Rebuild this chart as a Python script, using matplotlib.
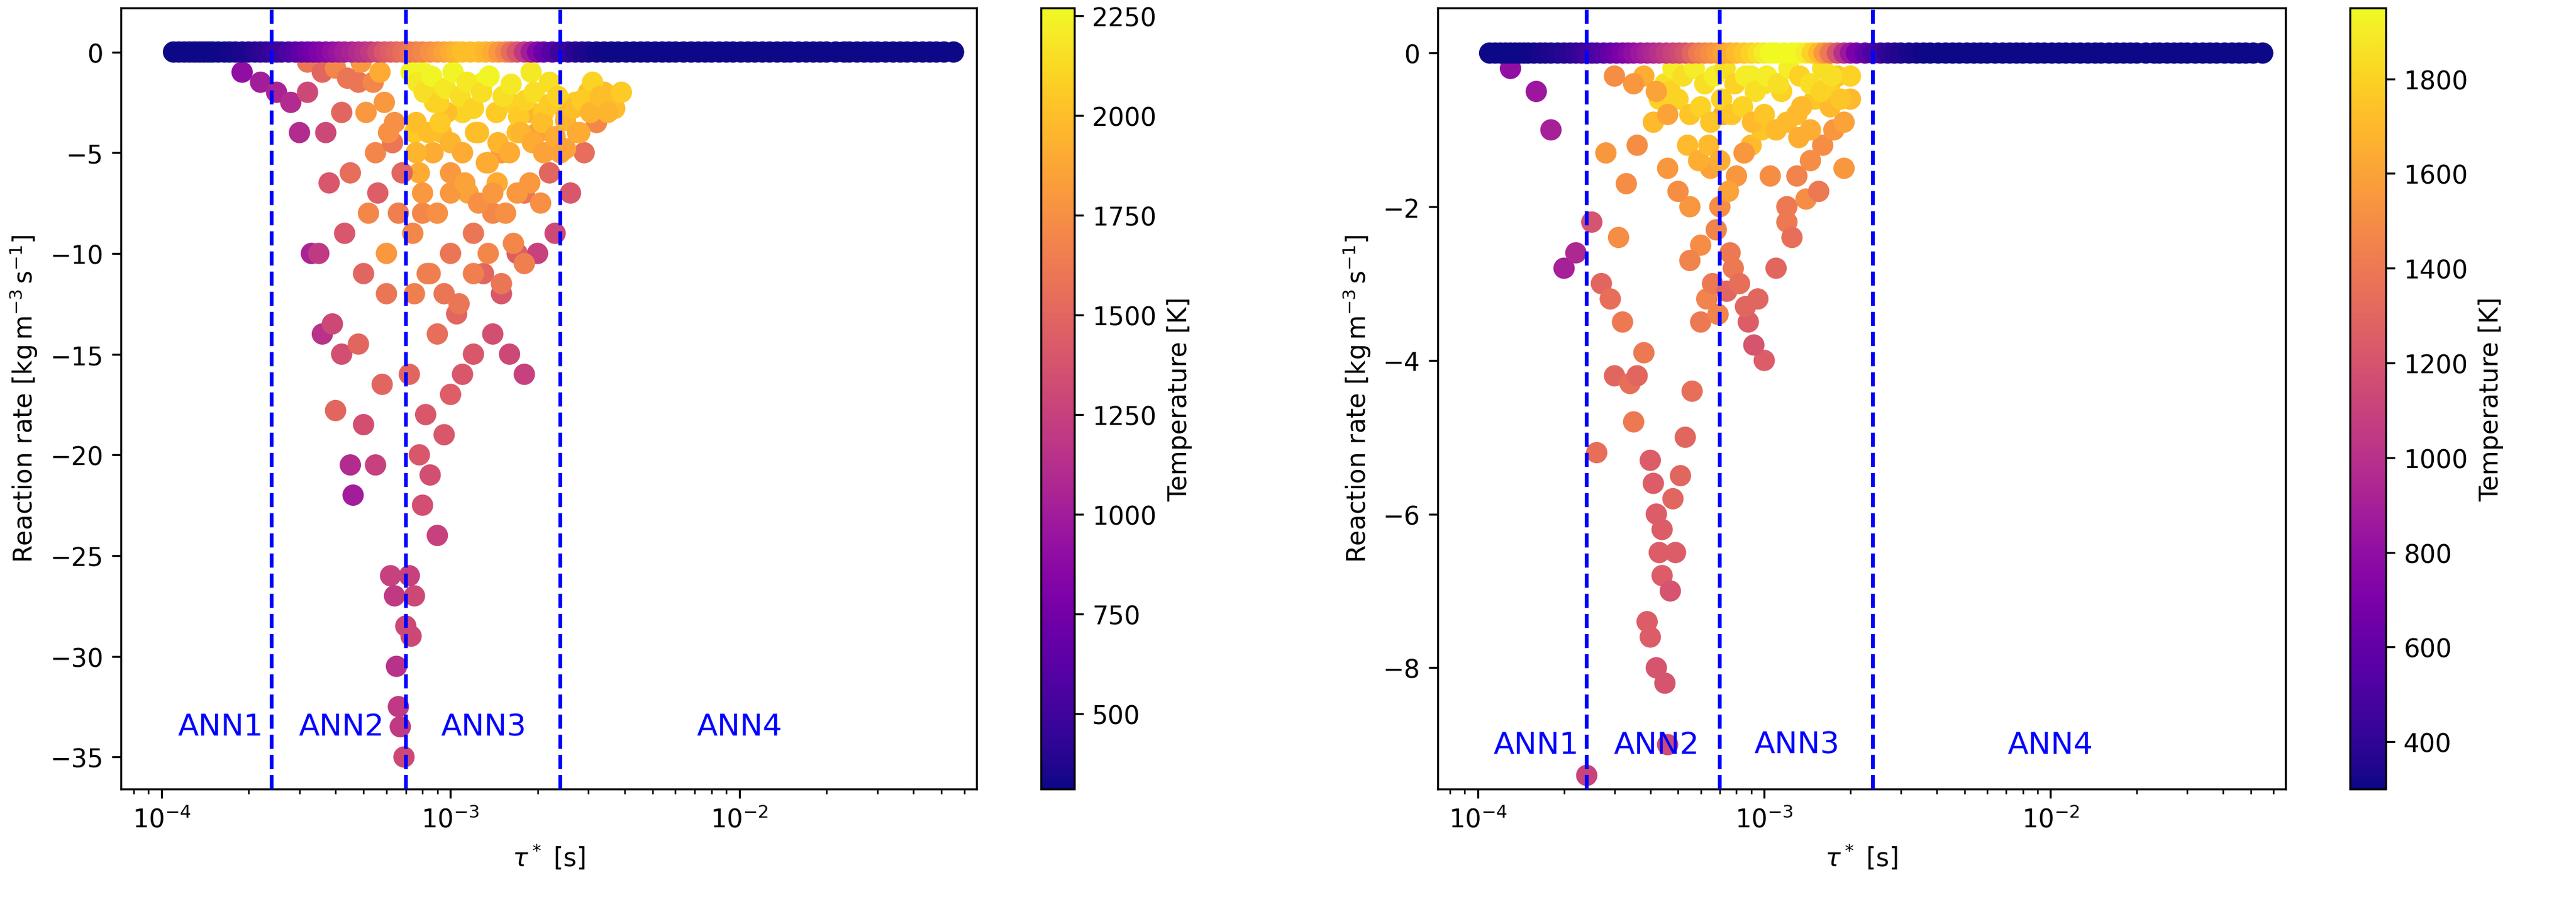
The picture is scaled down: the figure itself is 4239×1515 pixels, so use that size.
import matplotlib
matplotlib.use("Agg")
import matplotlib.pyplot as plt
import numpy as np

# baseline points (rate ~ 0)
base_tau = [1.1e-4,1.15e-4,1.2e-4,1.25e-4,1.3e-4,1.35e-4,1.4e-4,1.45e-4,1.5e-4,1.57e-4,1.65e-4,1.72e-4,1.8e-4,1.9e-4,2.0e-4,2.1e-4,
            2.2e-4,2.3e-4,2.4e-4,2.5e-4,2.6e-4,2.75e-4,2.9e-4,3.05e-4,3.2e-4,3.35e-4,3.5e-4,3.7e-4,3.9e-4,4.1e-4,4.3e-4,4.55e-4,
            4.8e-4,5.05e-4,5.3e-4,5.6e-4,5.9e-4,6.2e-4,6.5e-4,6.85e-4,7.2e-4,7.6e-4,8e-4,8.5e-4,9e-4,9.5e-4,1.0e-3,1.05e-3,
            1.1e-3,1.17e-3,1.25e-3,1.32e-3,1.4e-3,1.47e-3,1.55e-3,1.62e-3,1.7e-3,1.8e-3,1.9e-3,2.0e-3,2.1e-3,2.25e-3,2.4e-3,
            2.55e-3,2.7e-3,2.85e-3,3.0e-3,3.2e-3,3.4e-3,3.6e-3,3.8e-3,4.05e-3,4.3e-3,4.55e-3,4.8e-3,5.1e-3,5.4e-3,5.7e-3,
            6e-3,6.4e-3,6.8e-3,7.2e-3,7.6e-3,8e-3,8.5e-3,9e-3,9.5e-3,1.01e-2,1.07e-2,1.13e-2,1.2e-2,1.27e-2,1.35e-2,1.43e-2,
            1.5e-2,1.6e-2,1.7e-2,1.8e-2,1.9e-2,2.0e-2,2.15e-2,2.3e-2,2.4e-2,2.55e-2,2.7e-2,2.85e-2,3.0e-2,3.2e-2,3.4e-2,
            3.6e-2,3.8e-2,4.05e-2,4.3e-2,4.55e-2,4.8e-2,5.1e-2,5.5e-2]
base_T = [300,300,300,300,300,300,300,300,310,310,320,330,340,350,360,380,
          400,420,450,480,500,550,600,650,700,750,800,850,900,950,1000,1050,
          1100,1150,1200,1300,1400,1450,1500,1550,1600,1650,1700,1750,1800,1850,1900,1950,
          2000,2000,2000,1950,1900,1800,1700,1550,1400,1200,1000,850,700,600,500,
          450,400,370,350,330,320,310,300,300,300,300,300,300,300,300,
          300,300,300,300,300,300,300,300,300,300,300,300,300,300,300,300,
          300,300,300,300,300,300,300,300,300,300,300,300,300,300,300,
          300,300,300,300,300,300,300,300]

# left panel scatter
L_tau = [1.9e-4,2.2e-4,2.5e-4,2.8e-4,3.0e-4,3.3e-4,3.5e-4,3.6e-4,3.9e-4,4.0e-4,4.2e-4,4.5e-4,4.6e-4,4.8e-4,5.0e-4,5.5e-4,5.8e-4,
         6.2e-4,6.4e-4,6.5e-4,6.6e-4,6.7e-4,6.9e-4,7.0e-4,6.0e-4,5.2e-4,4.5e-4,3.8e-4,4.2e-4,5.5e-4,6.0e-4,3.2e-4,4.8e-4,
         7.2e-4,7.3e-4,7.5e-4,7.8e-4,8e-4,8.5e-4,9e-4,9.5e-4,1.0e-3,1.1e-3,1.2e-3,1.4e-3,1.6e-3,1.8e-3,1.5e-3,2.0e-3,2.3e-3,
         2.6e-3,2.9e-3,3.2e-3,3.6e-3,3.0e-3,2.5e-3,2.0e-3,1.5e-3,1.0e-3,8e-4,7.5e-4,7.2e-4,1.2e-3,1.8e-3,1.1e-3,9e-4,1.3e-3,
         7.5e-4,1.6e-3,2.2e-3,8e-4,1.0e-3,1.3e-3,9e-4,2.2e-3,1.7e-3,8.2e-4,1.05e-3,1.4e-3,2.8e-3,3.4e-3,1.9e-3,2.4e-3,
         7.8e-4,8.7e-4,9.3e-4,1.15e-3,1.25e-3,1.7e-3,2.1e-3,2.7e-3,3.1e-3,3.7e-3,3.9e-3,7.4e-4,7.6e-4,8.3e-4,
         8.8e-4,9.7e-4,1.35e-3,1.45e-3,1.9e-3,6.3e-4,5.6e-4,5.0e-4,4.3e-4,3.7e-4,
         7.3e-4,7.7e-4,8.1e-4,8.6e-4,9.1e-4,9.6e-4,1.02e-3,1.08e-3,1.14e-3,1.2e-3,1.28e-3,1.36e-3,1.44e-3,1.52e-3,1.62e-3,
         1.72e-3,1.82e-3,1.95e-3,2.08e-3,2.2e-3,2.35e-3,2.5e-3,2.65e-3,2.85e-3,3.05e-3,3.3e-3,3.5e-3,
         7.6e-4,8.4e-4,9.2e-4,1.0e-3,1.1e-3,1.22e-3,1.33e-3,1.46e-3,1.6e-3,1.75e-3,1.92e-3,2.1e-3,2.3e-3,2.5e-3,2.75e-3,
         8e-4,9e-4,1.0e-3,1.12e-3,1.25e-3,1.4e-3,1.55e-3,1.7e-3,1.88e-3,2.05e-3,
         8.5e-4,9.5e-4,1.07e-3,1.2e-3,1.35e-3,1.5e-3,1.65e-3,1.8e-3,
         3.2e-4,3.6e-4,4.0e-4,4.4e-4,4.9e-4,5.4e-4,5.9e-4,6.4e-4,6.8e-4,5.1e-4,5.7e-4,6.1e-4,6.6e-4]
L_rate = [-1,-1.5,-2,-2.5,-4,-10,-10,-14,-13.5,-17.8,-15,-20.5,-22,-14.5,-18.5,-20.5,-16.5,
          -26,-27,-30.5,-32.5,-33.5,-35,-28.5,-12,-8,-6,-6.5,-3,-5,-10,-2,-1.5,
          -26,-29,-27,-20,-22.5,-21,-24,-19,-17,-16,-15,-14,-15,-16,-12,-10,-9,
          -7,-5,-3.5,-2.5,-2,-3,-4,-5,-6,-8,-12,-16,-9,-7,-3,-2,-1.5,
          -4,-2.5,-1.5,-1,-10,-11,-14,-6,-10,-18,-13,-8,-4,-2,-3,-5,
          -6,-5,-4,-7,-4,-4,-3,-2.5,-1.5,-2.8,-2,-9,-3.5,-11,
          -2.5,-3,-5.5,-6.5,-1,-4.5,-7,-11,-9,-4,
          -1.0,-1.5,-2.0,-1.2,-2.5,-1.8,-1.0,-2.2,-1.5,-2.8,-2.0,-1.2,-3.0,-2.2,-1.6,
          -3.2,-2.4,-2.0,-3.5,-2.6,-2.2,-3.4,-2.8,-2.4,-3.0,-2.2,-3.0,
          -5,-4,-3.5,-4.5,-5,-4,-5.5,-4.5,-5,-4,-4.5,-5,-4.2,-4.8,-4.0,
          -7,-8,-7,-6.5,-7.5,-7,-8,-7,-6.5,-7.5,
          -11,-12,-12.5,-11,-10,-11.5,-9.5,-10.5,
          -0.5,-1,-0.8,-1.3,-0.5,-1.5,-2.5,-3.5,-6,-3,-1,-4,-8]
L_T = [900,1000,1050,1100,1100,1050,1200,1150,1300,1500,1350,1100,1000,1500,1350,1250,1500,
       1250,1200,1150,1200,1200,1300,1300,1600,1700,1550,1400,1500,1700,1800,1300,1600,
       1250,1300,1300,1400,1350,1350,1250,1400,1450,1400,1400,1350,1300,1250,1400,1250,1300,
       1400,1550,1700,1900,2000,1950,1850,1800,1800,1700,1650,1500,1600,1600,2100,2200,2250,
       2050,2100,2150,2250,1600,1500,1550,1500,1450,1400,1500,1700,1900,2000,1950,1850,
       1900,1900,2000,1850,2000,2000,2050,2050,2100,2000,2050,1700,2000,1650,
       2100,2000,1900,1900,2200,1600,1450,1500,1400,1300,
       2250,2200,2150,2250,2100,2200,2250,2150,2200,2100,2150,2250,2050,2150,2200,
       2050,2100,2150,2000,2050,2100,1950,2000,2050,1950,2000,1950,
       1950,2000,2050,1950,1900,2000,1900,1950,1900,1950,1900,1850,1900,1850,1900,
       1800,1750,1800,1850,1750,1800,1750,1800,1800,1750,
       1650,1600,1600,1650,1700,1600,1700,1650,
       1600,1500,1700,1600,1800,1700,1800,1750,1500,1800,1900,1750,1650]

# right panel scatter
R_tau = [1.3e-4,1.6e-4,1.8e-4,2.0e-4,2.2e-4,2.4e-4,2.5e-4,2.7e-4,2.9e-4,3.0e-4,3.2e-4,3.4e-4,3.6e-4,3.8e-4,4.0e-4,4.1e-4,
         4.2e-4,4.3e-4,4.4e-4,4.5e-4,4.6e-4,4.7e-4,4.9e-4,5.1e-4,5.3e-4,5.6e-4,6.0e-4,6.3e-4,6.6e-4,6.9e-4,4.0e-4,4.2e-4,
         3.9e-4,4.4e-4,4.8e-4,3.5e-4,2.6e-4,3.1e-4,5.5e-4,6.5e-4,7.0e-4,7.4e-4,7.8e-4,8.2e-4,8.8e-4,9.5e-4,1.0e-3,1.1e-3,
         1.2e-3,1.3e-3,1.45e-3,1.6e-3,1.75e-3,1.9e-3,2.0e-3,1.7e-3,1.5e-3,1.3e-3,1.1e-3,9e-4,8e-4,7.5e-4,1.2e-3,1.4e-3,
         1.0e-3,9e-4,1.6e-3,1.8e-3,7.2e-4,8.5e-4,1.15e-3,1.35e-3,6.0e-4,5.5e-4,5.0e-4,4.6e-4,3.6e-4,1.55e-3,1.25e-3,9.8e-4,
         4.3e-4,4.5e-4,4.1e-4,4.7e-4,3.3e-4,2.8e-4,6.8e-4,7.6e-4,8.6e-4,9.2e-4,1.05e-3,1.7e-3,2.0e-3,1.9e-3,
         4.8e-4,5.2e-4,5.7e-4,6.2e-4,6.7e-4,7.3e-4,7.9e-4,8.6e-4,9.3e-4,1.02e-3,1.12e-3,1.22e-3,1.33e-3,1.45e-3,1.58e-3,
         1.72e-3,1.85e-3,5.0e-4,5.5e-4,6.0e-4,6.5e-4,7.1e-4,7.7e-4,8.4e-4,9.1e-4,1.0e-3,1.1e-3,1.2e-3,1.32e-3,1.45e-3,
         5.4e-4,5.9e-4,6.4e-4,7.0e-4,3.8e-4,4.2e-4,4.6e-4,3.5e-4,3.0e-4]
R_rate = [-0.2,-0.5,-1.0,-2.8,-2.6,-9.4,-2.2,-3.0,-3.2,-4.2,-3.5,-4.3,-4.2,-3.9,-5.3,-5.6,
          -6.0,-6.5,-6.8,-8.2,-9.0,-7.0,-6.5,-5.5,-5.0,-4.4,-3.5,-3.2,-3.0,-3.4,-7.6,-8.0,
          -7.4,-6.2,-5.8,-4.8,-5.2,-2.4,-2.0,-1.5,-2.0,-3.1,-2.8,-3.0,-3.5,-3.2,-4.0,-2.8,
          -2.0,-1.6,-1.4,-1.2,-1.0,-0.9,-0.6,-0.4,-0.6,-0.8,-1.0,-1.2,-1.6,-1.8,-2.2,-1.9,
          -0.4,-0.3,-0.2,-0.3,-0.8,-1.3,-0.5,-0.7,-2.5,-2.7,-1.8,-1.5,-1.2,-1.8,-2.4,-1.0,
          -0.6,-0.4,-0.9,-0.5,-1.7,-1.3,-2.3,-2.6,-3.3,-3.8,-1.6,-0.7,-0.3,-1.5,
          -0.2,-0.3,-0.2,-0.4,-0.3,-0.2,-0.4,-0.3,-0.5,-0.3,-0.4,-0.2,-0.3,-0.4,-0.5,
          -0.3,-0.6,-0.6,-0.8,-0.7,-0.9,-0.6,-0.8,-0.7,-0.9,-0.8,-1.0,-0.9,-1.1,-1.0,
          -1.2,-1.4,-1.2,-1.4,-0.3,-0.5,-0.8,-0.4,-0.3]
R_T = [800,850,900,900,950,1100,1200,1300,1350,1300,1400,1350,1300,1400,1250,1250,
       1250,1250,1250,1200,1150,1200,1250,1300,1300,1350,1400,1450,1400,1450,1250,1200,
       1250,1250,1300,1400,1350,1500,1550,1600,1500,1300,1400,1350,1250,1300,1250,1300,
       1400,1450,1500,1500,1550,1600,1700,1800,1750,1700,1750,1700,1550,1600,1400,1500,
       1850,1900,1850,1750,1650,1550,1800,1700,1500,1450,1500,1550,1500,1400,1350,1750,
       1800,1850,1700,1800,1500,1550,1450,1400,1300,1200,1500,1700,1800,1550,
       1900,1850,1900,1850,1900,1850,1800,1900,1850,1900,1850,1900,1800,1850,1800,
       1850,1750,1800,1750,1800,1750,1800,1750,1800,1700,1750,1700,1700,1650,1650,
       1700,1650,1700,1650,1650,1600,1600,1550,1500]

fig = plt.figure(figsize=(14.1333, 5.0533), dpi=300)
axL = fig.add_axes([0.047, 0.143, 0.332, 0.848])
caxL = fig.add_axes([0.404, 0.143, 0.013, 0.848])
axR = fig.add_axes([0.558, 0.143, 0.329, 0.848])
caxR = fig.add_axes([0.912, 0.143, 0.014, 0.848])

bounds = [2.4e-4, 7e-4, 2.4e-3]
labels = ["ANN1", "ANN2", "ANN3", "ANN4"]
label_x = [1.6e-4, 4.2e-4, 1.3e-3, 1.0e-2]

def panel(ax, cax, tau, rate, T, vmin, vmax, ylim, ylab_y, cticks):
    ax.set_xscale("log")
    sc = ax.scatter(tau, rate, c=T, cmap="plasma", vmin=vmin, vmax=vmax, s=55, zorder=2)
    ax.scatter(base_tau, np.zeros(len(base_tau)), c=np.clip(base_T, vmin, vmax), cmap="plasma",
               vmin=vmin, vmax=vmax, s=55, zorder=3)
    for b in bounds:
        ax.axvline(b, color="blue", ls="--", lw=1.5, zorder=4)
    for lx, lb in zip(label_x, labels):
        ax.text(lx, ylab_y, lb, color="blue", fontsize=12, ha="center", va="center")
    ax.set_xlim(10**-4.14, 10**-1.18)
    ax.set_ylim(*ylim)
    ax.set_xlabel(r"$\tau^*$ [s]", fontsize=10)
    ax.set_ylabel(r"Reaction rate [kg$\,$m$^{-3}\,$s$^{-1}$]", fontsize=10)
    ax.tick_params(labelsize=10)
    cb = fig.colorbar(sc, cax=cax)
    cb.set_ticks(cticks)
    cb.set_label("Temperature [K]", fontsize=10)
    cb.ax.tick_params(labelsize=10)

panel(axL, caxL, L_tau, L_rate, L_T, 310, 2270, (-36.6, 2.2), -33.5, [500, 750, 1000, 1250, 1500, 1750, 2000, 2250])
panel(axR, caxR, R_tau, R_rate, R_T, 300, 1950, (-9.58, 0.59), -9.0, [400, 600, 800, 1000, 1200, 1400, 1600, 1800])

fig.savefig("out.png", dpi=300)
